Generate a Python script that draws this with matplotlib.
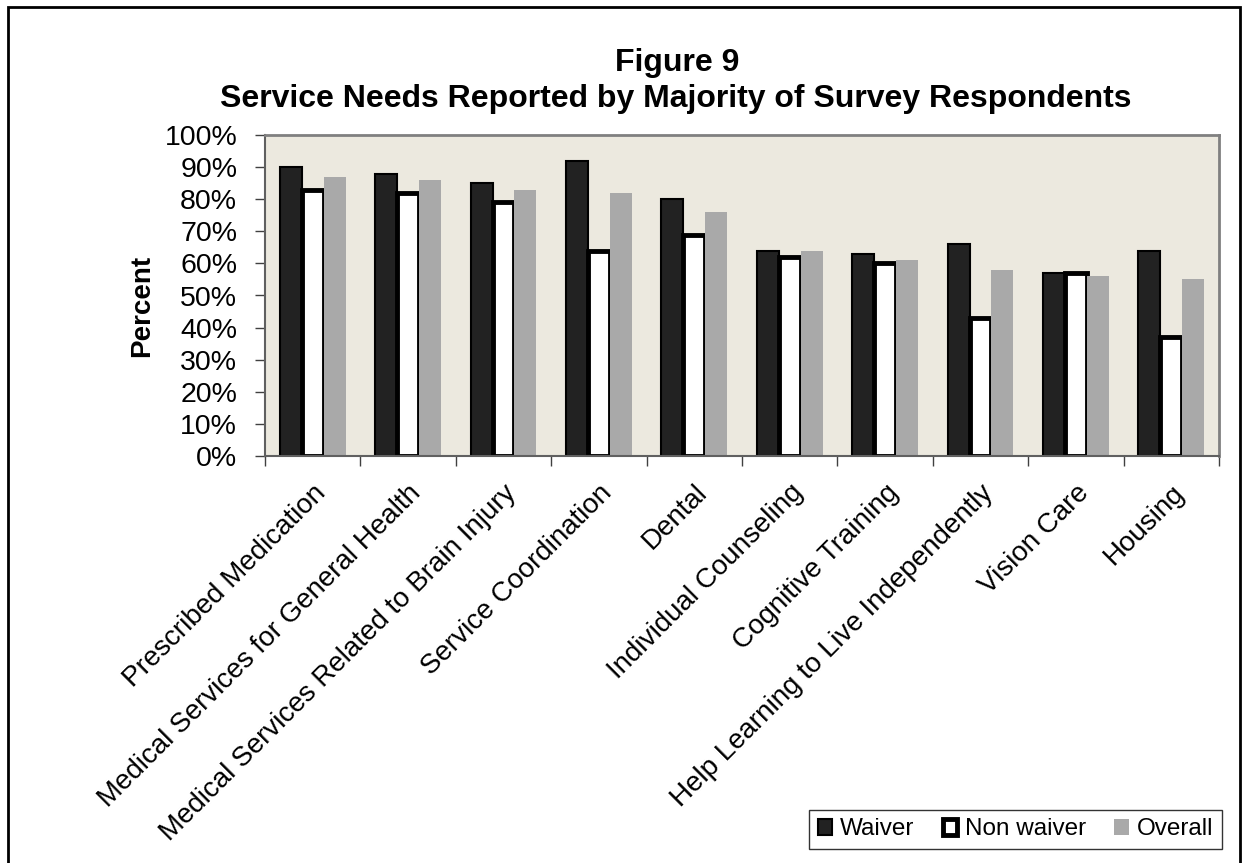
import numpy as np
import matplotlib.pyplot as plt
from matplotlib.patches import Rectangle
from matplotlib.ticker import FixedLocator, PercentFormatter

plt.rcParams['font.family'] = ['Liberation Sans', 'DejaVu Sans']

services = ['Prescribed Medication', 'Medical Services for General Health',
            'Medical Services Related to Brain Injury', 'Service Coordination',
            'Dental', 'Individual Counseling', 'Cognitive Training',
            'Help Learning to Live Independently', 'Vision Care', 'Housing']
waiver = [90, 88, 85, 92, 80, 64, 63, 66, 57, 64]
non_waiver = [83, 82, 79, 64, 69, 62, 60, 43, 57, 37]
overall = [87, 86, 83, 82, 76, 64, 61, 58, 56, 55]

W, H = 1244, 863
fig = plt.figure(figsize=(W / 100, H / 100), dpi=100)
ax = fig.add_axes([265 / W, 1 - 456 / H, (1219 - 265) / W, (456 - 135) / H])

# outer chart border (runs off the bottom edge)
fig.patches.append(Rectangle((8 / W, -0.05), (1240 - 8) / W, 1.05 - 7 / H,
                             transform=fig.transFigure, fill=False,
                             edgecolor='black', linewidth=2))

x = np.arange(len(services))
w = 0.23
ax.bar(x - w, waiver, w, color='#222222', edgecolor='black', linewidth=1.5, label='Waiver')
ax.bar(x, non_waiver, w, color='white', edgecolor='black', linewidth=3.5, label='Non waiver')
ax.bar(x + w, overall, w, color='#a9a9a9', edgecolor='none', label='Overall')

ax.set_facecolor('#ece9df')
ax.set_xlim(-0.5, len(services) - 0.5)
ax.set_ylim(0, 100)
ax.yaxis.set_major_locator(FixedLocator(range(0, 101, 10)))
ax.yaxis.set_major_formatter(PercentFormatter(decimals=0))
for s in ['top', 'right']:
    ax.spines[s].set_color('#808080')
    ax.spines[s].set_linewidth(2)
for s in ['left', 'bottom']:
    ax.spines[s].set_color('#606060')
    ax.spines[s].set_linewidth(1.5)

ax.set_xticks(x)
ax.set_xticklabels(services, rotation=45, ha='right', va='top',
                   rotation_mode='anchor', fontsize=20)
ax.xaxis.set_minor_locator(FixedLocator(np.arange(-0.5, len(services), 1)))
ax.tick_params(axis='x', which='major', length=0, pad=17)
ax.tick_params(axis='x', which='minor', length=7, width=1, color='#404040')
ax.tick_params(axis='y', length=7, width=1, color='#404040', labelsize=20.5, pad=13)

fig.text(142 / W, 1 - 306 / H, 'Percent', rotation=90, ha='center', va='center',
         fontsize=20, fontweight='bold')

fig.text(677 / W, 1 - 71 / H, 'Figure 9', ha='center', va='baseline',
         fontsize=23, fontweight='bold')
fig.text(676 / W, 1 - 107 / H,
         'Service Needs Reported by Majority of Survey Respondents',
         ha='center', va='baseline', fontsize=23, fontweight='bold')

leg = fig.legend(loc='lower right', bbox_to_anchor=(1222 / W, 1 - 849 / H), ncol=3,
                 fontsize=17.5, frameon=True, fancybox=False, edgecolor='black',
                 handlelength=0.6, handleheight=0.6, handletextpad=0.33,
                 columnspacing=1.15, borderpad=0.35, borderaxespad=0)
leg.get_frame().set_linewidth(1)

fig.savefig('out.png', dpi=100)
